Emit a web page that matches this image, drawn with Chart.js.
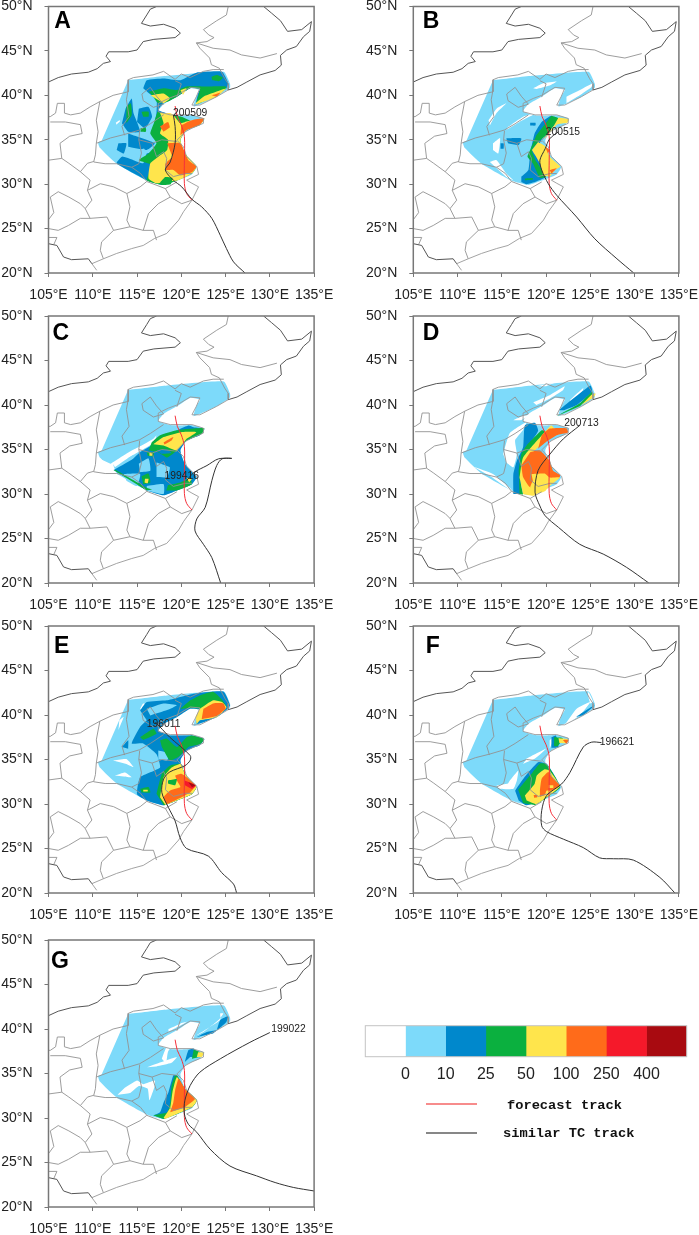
<!DOCTYPE html>
<html><head><meta charset="utf-8">
<style>html,body{margin:0;padding:0;background:#fff;width:699px;height:1235px;overflow:hidden}canvas{position:absolute;display:block}</style>
<script src="https://cdn.jsdelivr.net/npm/chart.js@4/dist/chart.umd.min.js"></script>
</head><body>
<script>
// ---------- colour bar ----------
const rainLevels = [0,10,25,50,100,250,400];
const rainColors = ['#ffffff','#7ddafa','#0088cc','#0bb03f','#ffe54c','#ff6b1a','#f5192a','#a80a10'];
// ---------- map outlines, [lon,lat,lon,lat,...] ----------
const borderNorth = [105,41.5,106.1,42,107.6,42.4,109.5,42.6,110.5,43,111.2,43.6,112,43.8,111.5,44.4,111.8,44.9,114,44.9,115,45.1,115.7,46.05,116.9,46.3,119.3,46.5,119.9,47,119.3,47.55,118,48,116.5,47.8,115.5,48.1,116.1,49.05,116.5,49.7,117.2,50];
const borderEast = [129.3,50,130.2,49.25,131.2,48.4,132,47.2,133.6,47.4,134.7,48.3,134.5,47.2,133.8,46.6,133,45.5,131.9,45.1,131.2,44.5,131.3,43.4,130.6,42.8,128.9,42.3,127.4,41.5,126.3,40.9,125.3,40.6];
const borderSouth = [105,23.3,105.95,23.1,106.7,21.8,107.6,21.5,109.5,21.6,109.9,21.05];
const coastline = [110.45,20.3,109.9,21.05,111.2,21.6,112.7,22.2,114.4,22.75,115.7,23.1,117,23.9,118.35,24.45,119.7,25.95,120.25,26.9,121.2,28.2,121.95,29.7,121.2,30.1,120.6,30.45,121.95,31.1,121.75,32,120.6,33.1,120.25,34.2,119.5,34.95,120.45,35.9,121.2,36.3,122.5,36.85,122.5,37.4,121.2,37.8,119.85,37.8,118.75,37.8,117.4,38.15,117.4,39.1,118.55,39.65,119.5,40,121,40.9,122.1,40.8,121.7,39.85,121.2,38.9,122.1,38.9,124,39.85,125.3,40.6];
const provNE1 = [125.3,50,125.1,49.05,124,48.4,122.5,47.4,123.1,46.8,123.7,46.5,122.9,46.05,121.7,45.9,122.1,45.3,123.2,44.2,123.4,43.45,124.3,43.05,124.9,41.9,125.3,41.3,125.3,40.6];
const provNE2 = [121.7,45.9,123.6,45.3,125.5,45.1,126.8,44.55,128.9,44.2,130.8,44.7];
const provNorth = [114,41.75,114.6,42,116.8,42.3,118,42.7,119.3,41.8,120,42.4,121,42,122.5,42.7,123.6,42.9,124.8,42.9];
const provLoess = [114,41.75,114,40.4,112.3,40,110.8,39.3,109.7,38.7,108.6,38,107.5,37.8,106.8,38,106.8,39.1,106,39.1,105.8,38,105.2,37.6,105,37.6];
const provShanxiE = [114,40.6,113.8,39.5,114.1,37.6,113.3,36.5,113.6,35.5];
const provShanxiW = [110.8,39.3,110.4,37.2,110.6,35.9,110.4,34.6,110.3,33.3,110.1,32.5,111.4,32.3,112.7,32.3,114.4,31.9,115.4,31.2,116.1,30.3];
const provShanxiS = [110.4,34.6,112,35.2,113.6,35.6,115.3,36.1,116.5,36.8,118,37.8];
const provHenanE = [115.3,36,115.2,35,116.7,34.6,117.8,35,119.5,34.8];
const provAnhuiW = [115.2,35,115.5,33.5,115.2,32.3,114.4,31.9];
const provAnhuiN = [116.7,34.6,117.2,33.1,118,33.65,118.35,32.9,118.2,31.6,119.1,30.85,120.45,31.2,121.2,31.2];
const provCapital = [115.55,40.15,116.5,40.9,117.2,39.9,118,39,116.85,38.65,115.7,39.4,115.55,40.15];
const provLiaoW = [119.5,39.8,120,41.3,119.3,41.65];
const provGansu = [105.2,37,106.9,37,108.6,36.7,108.8,35.7,107.4,35.4,106.3,34.6,106.5,32.9];
const provSichuanN = [105,32.7,106.5,32.9,107.3,32.35,108.6,31.4,109.4,32.35,110.1,32.55];
const provChongqing = [108.6,31.4,109.7,30.45,109.4,29.3,109.9,28.2,109.15,27.25,108.6,27.8,107.3,28.55,106.1,29.15,105.2,28.55];
const provYangtze = [109.4,29.3,110.85,30.05,112.35,29.7,113.85,28.95,115.35,29.7,116.1,30.3,118.2,29.5,119.5,30.25];
const provZhejiang = [118.2,29.5,118.75,28.55,120.05,27.8,121.2,28.2];
const provFujian = [118.75,28.55,117.4,27.8,116.3,26.7,115.7,24.8,116.85,24.8,117.2,23.7];
const provHunanE = [113.85,28.95,114.2,27.45,113.85,25.95,114.2,25.2,115.7,24.8];
const provHunanS = [109.15,27.25,109.7,26.15,111.6,26.3,112.35,24.8,114.2,25.2];
const provGuangxiN = [109.7,26.15,108.6,26.15,107.25,25.35,106.1,24.8,105,25];
const provGuangxiE = [112.35,24.8,111,23.5,110.85,22.55,111.2,21.6];
const provYunnan = [105,24,105.95,24,105.6,23.2];
const provGuizhou = [105.2,28.55,105.6,26.8,105,26];
// ---------- rain areas (same lon,lat pairs) ----------
const rainDomain = [114,41.7,118.4,42.2,124.8,42.65,125.5,41.3,125.5,40.85,124,39.85,121.4,38.75,121.7,39.9,122.1,40.6,121,40.8,119.5,39.85,118,39,117.4,38.2,118.7,37.75,119.9,37.7,121.2,37.75,122.6,37.35,122.1,36.65,120.6,36,119.9,34.9,120.4,33.4,121.7,31.95,121.2,31.1,119.5,30.4,118,29.9,116.1,30.4,112.7,32.3,110.8,34.1,110.6,34.7,111,34.9];
// A
const aBlueMain = [115.7,40.8,116.1,41.7,118,41.9,119.9,41.7,121.7,42.55,124.6,42.65,125.3,41.35,125.1,40.8,124,40,121.7,39.1,121.9,40.2,122.1,40.7,121,40.8,119.5,39.85,118,39.1,117.4,38.35,118.7,37.8,119.3,35.7,119.1,34.2,118.5,32.3,118.7,30.8,118,29.9,116.1,30.45,112.7,32.35,113.3,33.1,114.6,32.7,115.7,32.35,116.1,33.45,117.2,33.8,117.2,35.7,117,36.85,117.2,38,117.2,39.5,116.3,40.25];
const aBlueW1 = [113.7,38.5,114.4,39.65,114.6,38,115.35,35.9,114,35.9,113.3,36.85];
const aBlueW2 = [115.2,38.5,116.3,38.7,116.7,37.6,115.9,36.3,115,37];
const aBlueW3 = [112.9,34.6,113.8,34.6,113.5,33.45,112.7,33.85];
const aBlueW4 = [114,35.7,117,34.6,116.1,33.85,114,34.2];
const aLightS = [114.8,33.6,115.8,34,116,33.2,115,33];
const aGreenN = [116.3,40.4,118,40.8,119.5,40.6,120.6,41,122.5,41,123.5,41,125,41,125.1,40.8,123.6,39.85,121.7,39,122,40.2,122.1,40.7,121,40.8,119.5,39.85,118.5,39.3,117.4,39.1,116.7,40.05];
const aGreenBlob = [123.4,42.1,124,42.3,124.7,42,124.3,41.6,123.5,41.7];
const aGreenE = [117.3,38.15,116.9,36.85,116.5,35.7,117.2,34.6,116.3,33.45,115.2,32.7,116.7,32.15,116.1,30.45,118,29.9,119.5,30.4,121.2,31.2,121.7,32,120.4,33.45,119.9,35,120.6,36.1,122.1,36.65,122.6,37.35,121.2,37.1,120,37.6,118.7,37.8];
const aGreenW1 = [113.8,38.7,114.3,39.1,114.4,37.8,113.8,36.85];
const aGreenW2 = [115.5,38.15,116.3,38.15,116.3,37.6,115.7,37.6];
const aGreenW3 = [115.4,36.3,116,36.3,116,35.9,115.4,35.9];
const aYellowNE = [121.6,39.1,122.5,39.85,124.8,40.7,125.1,40.8,124,39.85,121.7,39];
const aYellowB1 = [116.5,40,118,40.2,118.7,39.65,118,39.1];
const aYellowB2 = [119.9,40.6,120.6,40.8,120.2,40.05];
const aYellowE = [117.6,38,118,36.85,117.6,35.7,118.5,35,118.4,33.85,117.4,33.1,116.5,32.35,116.3,30.65,117.2,30.1,118,30.25,119.5,30.4,121.2,31.2,121.7,32,120.4,33.45,119.9,35,120.6,36.1,122.1,36.65,122.6,37.35,120.6,37.05,119.9,36.85,119.1,37.8,118.7,38];
const aGreenS = [117.6,30.2,118.2,30.8,119,30.7,118.8,30,117.9,29.9];
const aOrangeNE = [123.4,40,124.4,40.3,124,39.85];
const aOrange1 = [117.6,36.5,118.5,37,118.7,36.4,118,35.9];
const aOrange2 = [120,36.65,121.2,37.2,122.6,37.4,122.1,36.7,120.6,36.1,119.9,35.5];
const aOrange3 = [118.4,34.6,119.9,34.6,120.8,32.7,121.7,32,121.2,31.35,119.9,31,119.1,31.6,118.2,31.6,118.2,32.3,119,33.1];
const aWhite = [112.6,36.9,113,37.2,113.1,37.1,112.7,36.7];
// B
const bWhite1 = [118.55,40.8,119.7,41.35,121.2,41.55,120.4,41.1,118.9,40.7];
const bWhite2 = [122.3,39.85,124.2,40.8,125.3,41.35,125.1,40.9,123.8,40,122.3,39.1];
const bWhite3 = [113.5,37.2,114.4,38.5,115.5,39.1,114.4,38,113.65,36.6];
const bWhite4 = [115.7,36.45,117.4,37.6,118.9,38,117,37,115.5,36.1];
const bWhite5 = [113.65,32.5,114.4,32.7,115.5,31.2,116.3,30.45,115.5,30.8];
const bWhite6 = [114,34.6,114.8,35.2,114.6,33.45,114,33.85];
const bBlueMain = [117.2,30.85,118,31.6,118.2,33.45,118.7,35.7,119.5,37,120.6,37.7,121.2,37,120,35.7,119.3,34.6,120,30.85,118.9,30.3,117.8,30,117.2,30.25];
const bBlue1 = [115.5,35.15,117.2,35.15,116.9,34.4,115.7,34.6];
const bBlue2 = [118.2,36.9,118.8,36.9,118.8,36.6,118.2,36.6];
const bBlue3 = [114.85,34.6,115.2,34.6,115.2,34,114.85,34];
const bGreen = [120.6,37.7,121.4,37.4,120,35.5,119.1,34.75,118.4,33.85,118.8,32.7,120,30.85,119.3,30.7,118.5,32.35,117.9,33.1,118.2,33.85,118.9,35.5];
const bGreenS = [117.6,30.65,118.5,30.7,118.5,30.5,117.6,30.45];
const bYellow1 = [121.4,37.5,122.6,37.3,122.4,36.9,121.2,36.7,120.2,35.5,119.7,35,120.9,36.6];
const bYellow2 = [119.1,34.75,120,34.2,120.4,33.1,121.6,32,121,31.6,120.4,30.85,119.7,31,119.3,32.35,118.4,33.85];
const bOrange1 = [119.9,34.2,120.4,33.85,120.2,33.45];
const bOrange2 = [120.4,31.6,121.2,31.8,120.6,31.2];
// C
const cWhite = [112.3,33.4,114.6,34.9,116.85,36.2,117.2,36.6,116.9,35.8,115.2,34.9,112.5,33];
const cWhiteEdge = [110.9,33.9,112.4,32.3,112.7,32.3,112.35,33.3,114.6,34.4,116.85,35.7,116.5,35.8,114.4,34.9,112,33.4];
const cBlue = [112.35,32.7,114.4,33.85,115.35,34.7,116.85,35.6,119.1,36.95,120.8,37.7,121.4,37.5,122.6,37.3,122.1,36.6,120.6,36,119.9,34.9,120.4,33.4,121.7,31.9,121.2,31.1,119.5,30.4,118,29.85,116.1,30.4];
const cLight1 = [115.2,33.4,116.3,34,116.5,32.6,115.35,32.45];
const cLight2 = [116.1,30.9,118,31.1,118,30,116.1,30.4];
const cLight3 = [117.2,33.55,118.7,33,118.4,31.9,117.2,31.9];
const cLight4 = [113.5,32.25,115.35,32.25,115,30.9,113.8,31.5];
const cGreenEdge = [112.35,32.7,112.6,32.7,116.1,30.7,116.7,30.5,116.1,30.4];
const cGreenSE = [118.5,31,119.9,31.3,121,31.7,121.2,31.1,119.5,30.4,118.3,30.4];
const cGreenBlob = [115.5,32,116.3,32.3,116.5,31.3,115.7,31.1];
const cGreenN = [116.65,35.8,117.6,36.6,119.5,37.15,120.6,37.3,122.6,37.4,122.3,36.75,120.6,36,119.5,34.9,118.4,34.1,117.4,34.7,116.3,34.9];
const cGreenW = [116.1,34.7,116.9,34.7,116.85,34.2,116.2,34.3];
const cBlueIn = [117.2,34.9,118.4,35,118.9,34.6,117.8,34.5];
const cYellowN = [116.85,35.6,118,36.4,120,36.95,121.7,36.95,120.6,36.2,119.5,34.9,118,35.45];
const cYellowB = [115.9,31.7,116.3,31.7,116.2,31.2,115.85,31.3];
const cYellowW = [116.4,34.6,116.7,34.6,116.7,34.3,116.4,34.3];
const cYellowSE = [120.6,31.8,121.2,31.7,120.9,31.3];
const cOrange = [118,35.8,119.1,36.4,118.9,36,118.1,35.55];
// D
const dWhite1 = [118.9,42.1,120.9,42.5,120,42.1];
const dWhite2 = [118.55,40.3,120.4,41.1,122.1,42.1,121.9,41.65,120.4,40.7,118.9,40];
const dWhite3 = [122.7,40.55,124.2,41.9,124,41.3,122.9,40.2];
const dWhite4 = [116.3,38.3,117.4,38.8,118,38.8,117.2,38.3];
const dWhite5 = [115.15,34.5,115.9,36.85,117.8,38.1,117.4,37.2,116.5,36.05,116.7,34.5,116.3,33,115.5,33.55];
const dWhite6 = [111.8,33.05,114,32.25,115.9,30.7,116.3,30.2,113.85,31.9];
const dBlueNE = [121.4,39.4,125,42.2,125.2,41.5,123.45,40,122,39.4];
const dGreenNE = [121.1,38.7,123.8,40.2,125.2,41.5,125.2,41,123.85,39.9];
const dYellowNE = [124,40,125.2,41.2,125.6,41.3,125.4,40.85];
const dBlue = [116.3,30,116.3,32.25,116.7,33.75,117.4,35.25,117.6,37.7,118.75,38,119.1,37.1,118.4,36,117.8,34.9,117.2,31.2,117.2,30];
const dGreen = [116.9,32.6,117.2,34.5,117.8,35.45,119.5,37.15,120,37,118.9,35.45,118,34.5,117,31.85,117.4,29.95,117,30];
const dYellow = [117,31.85,117.4,34.1,119.7,36.8,120.6,37.7,121.2,36.95,120,36.2,119.1,35.25,118,34.1,117.8,31.85,119,30,118.5,29.8,117.4,30];
const dOrange1 = [119.5,36.6,120.4,37.35,122.3,37.4,122.5,36.9,121.2,36.6,120,35.85,119.1,35.1];
const dOrange2 = [118.2,34.7,119.3,34.9,120.4,33.75,120.8,32.6,121.6,32.1,121.4,31.7,120.2,31.5,120.2,30.95,118.2,30.75,117.4,31.9,117.2,33.2];
const dYellowS = [118.35,32.25,119.85,32.3,120.4,31.85,121.55,31.85,120.4,30.9,119.85,30.3,118.75,30,118.2,30.75,118.5,31.5];
// E
const eBlue = [115.35,40.5,116.1,41.45,118.35,41.65,121.4,42.4,124.75,42.65,125.5,41.1,125.1,40.6,124,39.75,121.75,39,121.9,40.15,122.1,40.6,121,40.7,119.5,39.75,118,39,117.4,38.25,118.7,37.7,121.2,37.7,122.6,37.3,122.1,36.6,120.6,36,119.9,34.9,120.4,33.4,121.7,31.9,121.2,31.1,119.5,30.4,118,29.85,116.1,30.4,115,31.1,115.35,33,117.6,34.1,117.2,35.6,115.7,36.8,114.4,36.8,115.35,38.65,116.1,39.4];
const eLight1 = [116.1,40.7,118,41.3,119.5,41.1,118.4,40.55,116.5,39.95];
const eLight2 = [117.4,36,118.6,35.7,118.4,34.9,117.4,35];
const eBlueW = [113.3,36.4,114,37.15,114,36.2];
const eGreenN = [121,41.65,122.1,42.2,123.6,42.6,124.6,41.7,125.1,40.85,123.6,39.8,122.1,40.7,121,40.8,119.9,40.7];
const eYellowN = [122.1,40.7,123.6,41.65,124.6,41.45,125.1,40.85,124,39.75,122.1,39.4,121.75,39,121.6,39.8];
const eOrangeN = [122.5,40.7,123.6,41.3,124.75,41.3,125,40.7,124,39.9,122.3,39.55];
const eGreenM = [117.6,37.15,118.35,37.35,119.5,36.4,120.6,37.5,121.2,37.7,122.6,37.3,122.1,36.7,120.8,36.4,119.7,35.3,118.7,34.9,117.8,36.4];
const eGreenW = [115.35,37.5,116.85,38.45,117.2,37.9,115.7,37.2];
const eGreenS = [117.2,31.15,117.8,33.4,118.7,34.3,119.9,34.5,120.4,33.4,121.7,31.9,121.2,31.1,119.5,30.4,118,29.85];
const eYellowS = [117.6,30.75,118,33,118.9,34.1,119.9,34.5,120.4,33.4,121.7,31.9,121.2,31.1,119.5,30.4,118.2,29.9];
const eOrangeS = [119.3,33.2,120,33.4,120.6,33,121.6,32.1,121,31.3,118.35,30,118,30.75,118.7,31.5,119.9,31.9,119.5,32.65];
const eGreenIn = [118.5,32.65,119.5,32.8,119.3,32.1,118.5,32.3];
const eRed = [120.4,32.65,121.7,32.1,121.2,31.7,120.4,32.1];
const eDarkRed = [120.8,32.45,121.6,32.1,121.2,31.9];
const eGreenBlob = [115.35,31.7,116.3,31.9,116.5,31.3,115.5,31.3];
const eYellowBlob = [115.7,31.6,116.2,31.6,116.2,31.4,115.7,31.4];
const eWhite1 = [112.3,34.9,113.8,35.05,114.6,34.15,113.8,34.5];
const eWhite2 = [112.5,33.2,113.65,33.55,114.4,33,113.5,33.1];
const eWhite3 = [115.35,40.7,115.7,41.3,116.3,41.1,115.7,40.35];
const eWhite4 = [113,39.4,113.5,39.8,112.9,38.3];
// F
const fWhite1 = [124.8,42.6,125.3,41.5,125,41.3,124.7,42.3];
const fWhite2 = [121.9,38.6,123.45,40.7,125,41.45,123.85,40,122.7,39.2];
const fWhite3 = [117.8,35.1,120,36.2,118.75,35.1,117.4,34.5];
const fWhite4 = [115.9,32.65,116.85,33.75,116.7,32.65,116.3,31.7,114.8,31.7,114.4,32.05,115.7,32.3];
const fWhite5 = [120.4,37.15,121,37.7,120.4,36.2];
const fBlueNE = [123.45,39.85,125,40.85,125.5,41.1,124.2,40,123.45,39.8];
const fBlueTip = [120.6,37.5,121.1,37.7,121.4,36.4,120.6,36.3];
const fGreenTip = [120.9,37.5,121.9,37.4,121.3,36.5,120.9,36.5];
const fYellowTip = [121.4,37.4,122.5,37.3,122.3,36.85,121.5,36.85];
const fOrangeTip = [121.9,37.2,122.55,37.2,122.3,36.75];
const fBlue = [116.5,31.5,117.4,32.8,118,33.55,119.1,34.7,120.1,34.5,121.6,31.9,120.1,30.8,117.8,29.85,116.9,30.4];
const fGreen = [116.85,31.6,118,33,118.35,33.4,119.3,34.55,120.1,34.45,121.6,31.9,120.4,30.95,118.75,29.9,117.4,30.1];
const fYellow = [117.6,30.95,118.7,32.25,118.95,33.2,119.85,33.9,120.4,33.75,121.55,32,120.4,31,118.9,30,117.8,30.4];
const fOrange = [119.3,31.55,119.5,32.85,120.25,33.6,120.8,32.85,121.55,32.1,120.6,31.5,120.05,31.5,119.85,31,119.3,30.8];
const fOrangeDot = [118.6,31,119,31,119,30.75,118.65,30.7];
const fYellowIn = [120.3,32.1,120.8,32.1,120.8,31.8,120.3,31.8];
// G
const gWhite1 = [117.8,36.65,118.35,38,119.3,38.5,118.5,37.45,118.3,36.1];
const gWhite2 = [116.1,35.7,119.5,36.85,118.9,36.2,117.2,35.8];
const gWhite3 = [118.55,40,119.9,40.6,120.6,40.8,119.5,40.2,118.55,39.7];
const gWhite4 = [121.75,39.3,124.4,41,124.4,41.75,124.75,41.75,124.2,41,122.5,39.65];
const gWhite5 = [113.5,33.3,115,34.2,115.7,33.8,117,34.2,117,33.6,116.4,32,116.2,33.3,115.2,33.6,114.2,32.8,112.8,32.6];
const gBlueNE = [124,39.85,124.4,41,125.3,41.45,125.1,40.8,124.2,40];
const gBlueNE2 = [121.75,39.1,122.9,39.65,124,39.85,123.6,39.5];
const gBlueTip = [120.4,36.3,120.8,37.6,121.4,37.8,122.1,36.85,121,36.85];
const gGreenTip = [121.4,37.7,122.1,37.4,121.9,36.85,121.2,36.65];
const gYellowTip = [121.9,37.4,122.6,37.35,122.3,36.85,121.75,36.85];
const gBlue = [116.85,30.3,117.6,30.65,118,31.75,118.55,32.9,119.1,34.8,119.5,34.8,120.4,33.3,121.75,32,121.2,31.2,119.5,30.45,118,29.9];
const gGreen = [116.8,30.3,118.4,30.65,118.75,31.75,118.9,33.65,119.3,34.8,119.5,34.8,120.4,33.3,121.75,32,121.2,31.2,119.5,30.45,118,29.9];
const gYellow = [118,30,118.75,31.2,119,32.9,119.5,34.6,120.4,33.3,121.75,32,121.2,31.2,119.5,30.45,118.2,29.9];
const gOrange = [118.75,30.65,119.1,31.75,119.3,33.1,119.7,34.4,120.4,33.3,121.55,32.15,120.4,31.2];
// ---------- tracks ----------
const forecastTrack = [119.3,38.8,119.55,37.6,120,36.65,120.35,35.35,120.35,32.7,120.35,30.05,120.6,28.95,121.2,28.2];
const trackA = [127.2,20,125.9,21.25,125.1,22.75,124.4,24.25,123.45,26.15,122.3,27.45,121.2,28.3,120.05,29.7,119.1,30.45,118.2,31.6,118.75,32.5,119.3,34.6,119.3,36.5,119.1,37.8];
const trackB = [129.9,20,128,21.6,125.5,23.85,123.45,26.3,121.2,28.75,120.25,30.05,119.5,31.6,119.3,32.7,119.9,34,120.4,35.1,121.4,35.9];
const trackC = [124.45,20,123.45,22.85,122.5,24.35,121.55,25.85,121.75,27.2,122.7,28.5,123.45,31.5,124,33.2,124.6,33.95,125.7,34,124.2,33.95,122.9,33.2,121.4,32.4,120.6,31.5];
const trackD = [131.6,20,129.1,21.75,126.45,23.25,123.8,24.35,121.4,26.25,119.9,27.55,119.3,28.65,118.75,30.2,119.1,32.65,120.45,34.5,121.95,36.2,123.8,37.7];
const trackE = [126.25,20,125.9,21,124.55,22.3,123.05,24.15,120.6,25,119.85,26.25,119.3,28.1,118.55,29.6,117.8,31.3,118,32.8,118.7,33.6,120.4,34.3,121,34.9,121,35.45,118.7,37.5,117.6,38.65,117,39.2];
const trackF = [134.55,20,132.85,21.75,129.85,23.7,127.6,23.85,126.05,23.95,124.2,25.1,121.95,26.05,120.05,26.9,119.5,27.55,119.5,29.25,120.05,30.95,121.75,32.25,122.7,33.55,124.2,36.4,125.15,36.95,126.25,36.9];
const trackG = [135,21.8,132.65,22.2,130.6,22.75,128.5,23.5,125.5,24.6,123.25,26.5,121.75,28.4,120.8,29.3,120.35,30.45,120.4,31.95,121,33.65,122.1,35.15,124.4,36.65,127.75,38.5,130,39.6];
// ---------- panels ----------
const panelNames = ['A','B','C','D','E','F','G'];
const cycloneIds = ['200509','200515','199416','200713','196011','196621','199022'];
const lonTicks = [105,110,115,120,125,130,135];
const latTicks = [20,25,30,35,40,45,50];
const legendNames = ['forecast track','similar TC track'];

const W=0,L=1,B=2,G=3,Y=4,O=5,R=6,D=7; // colour indexes
const layers = {
 A:[[L,rainDomain],[W,aWhite],[B,aBlueW1],[B,aBlueW2],[B,aBlueW3],[B,aBlueW4],[B,aBlueMain],[L,aLightS],[G,aGreenW1],[G,aGreenW2],[G,aGreenW3],[G,aGreenN],[G,aGreenBlob],[G,aGreenE],[Y,aYellowNE],[Y,aYellowB1],[Y,aYellowB2],[Y,aYellowE],[G,aGreenS],[O,aOrangeNE],[O,aOrange1],[O,aOrange2],[O,aOrange3]],
 B:[[L,rainDomain],[W,bWhite1],[W,bWhite2],[W,bWhite3],[W,bWhite4],[W,bWhite5],[W,bWhite6],[B,bBlue1],[B,bBlue2],[B,bBlue3],[B,bBlueMain],[G,bGreen],[G,bGreenS],[Y,bYellow1],[Y,bYellow2],[O,bOrange1],[O,bOrange2]],
 C:[[L,rainDomain],[W,cWhiteEdge],[W,cWhite],[B,cBlue],[L,cLight1],[L,cLight2],[L,cLight3],[L,cLight4],[G,cGreenEdge],[G,cGreenSE],[G,cGreenBlob],[G,cGreenN],[G,cGreenW],[B,cBlueIn],[Y,cYellowN],[Y,cYellowB],[Y,cYellowW],[Y,cYellowSE],[O,cOrange]],
 D:[[L,rainDomain],[W,dWhite1],[W,dWhite2],[W,dWhite3],[W,dWhite4],[W,dWhite5],[W,dWhite6],[B,dBlueNE],[G,dGreenNE],[Y,dYellowNE],[B,dBlue],[G,dGreen],[Y,dYellow],[O,dOrange1],[O,dOrange2],[Y,dYellowS]],
 E:[[L,rainDomain],[W,eWhite1],[W,eWhite2],[W,eWhite3],[W,eWhite4],[B,eBlueW],[B,eBlue],[L,eLight1],[L,eLight2],[G,eGreenN],[Y,eYellowN],[O,eOrangeN],[G,eGreenM],[G,eGreenW],[G,eGreenS],[Y,eYellowS],[O,eOrangeS],[G,eGreenIn],[R,eRed],[D,eDarkRed],[G,eGreenBlob],[Y,eYellowBlob]],
 F:[[L,rainDomain],[W,fWhite1],[W,fWhite2],[W,fWhite3],[W,fWhite4],[W,fWhite5],[B,fBlueNE],[B,fBlueTip],[G,fGreenTip],[Y,fYellowTip],[O,fOrangeTip],[B,fBlue],[G,fGreen],[Y,fYellow],[O,fOrange],[O,fOrangeDot],[Y,fYellowIn]],
 G:[[L,rainDomain],[W,gWhite1],[W,gWhite2],[W,gWhite3],[W,gWhite4],[W,gWhite5],[B,gBlueNE],[B,gBlueNE2],[B,gBlueTip],[G,gGreenTip],[Y,gYellowTip],[B,gBlue],[G,gGreen],[Y,gYellow],[O,gOrange]]
};
const tracks = {A:trackA,B:trackB,C:trackC,D:trackD,E:trackE,F:trackF,G:trackG};
const provinces = [provNE1,provNE2,provNorth,provLoess,provShanxiE,provShanxiW,provShanxiS,provHenanE,provAnhuiW,provAnhuiN,provCapital,provLiaoW,provGansu,provSichuanN,provChongqing,provYangtze,provZhejiang,provFujian,provHunanE,provHunanS,provGuangxiN,provGuangxiE,provYunnan,provGuizhou];
const borders = [borderNorth,borderEast,borderSouth];

// ---------- layout (not data) ----------
const frames = {
 A:{cl:0,ct:0,pl:48.5,pt:6.5,name:[106.6,48.3],id:[121,38]},
 B:{cl:365,ct:0,pl:48.3,pt:6.5,name:[107,48.3],id:[121.9,35.9]},
 C:{cl:0,ct:310,pl:48.5,pt:6,name:[106.4,48],id:[120.05,32]},
 D:{cl:365,ct:310,pl:48.3,pt:6,name:[107,48],id:[124,38]},
 E:{cl:0,ct:620,pl:48.5,pt:6,name:[106.5,47.7],id:[118,38.95]},
 F:{cl:365,ct:620,pl:48.3,pt:6,name:[107.2,47.7],id:[128,36.9]},
 G:{cl:0,ct:934,pl:48.5,pt:6,name:[106.3,47.6],id:[132.1,40]}
};
const SANS='"Liberation Sans",Arial,sans-serif';
const PLOT_W=265.6, PLOT_H=266.2, AXIS_B=32, CW=334;

function pts(a){const o=[];for(let i=0;i<a.length;i+=2)o.push({x:a[i],y:a[i+1]});return o;}
function polyDs(a,c){return {data:pts(a),showLine:true,fill:'shape',backgroundColor:c,borderColor:c,borderWidth:0,pointRadius:0,tension:0.15,spanGaps:true};}
function lineDs(a,c,w,t){return {data:pts(a),showLine:true,fill:false,borderColor:c,borderWidth:w,pointRadius:0,tension:t||0,spanGaps:true};}
function addCanvas(l,t,w,h){const c=document.createElement('canvas');c.width=w;c.height=h;c.style.left=l+'px';c.style.top=t+'px';c.style.width=w+'px';c.style.height=h+'px';document.body.appendChild(c);return c;}
function zeroPad(s){s.paddingLeft=0;s.paddingRight=0;s.paddingTop=0;s.paddingBottom=0;}

panelNames.forEach((n,idx)=>{
  const f=frames[n];
  const list=[];
  layers[n].forEach(([c,a])=>list.push(polyDs(a,rainColors[c])));
  provinces.forEach(a=>list.push(lineDs(a,'#929292',0.9)));
  list.push(lineDs(coastline,'#989898',0.9));
  borders.forEach(a=>list.push(lineDs(a,'#555555',1)));
  list.push(lineDs(forecastTrack,'#f5303a',1,0.3));
  list.push(lineDs(tracks[n],'#333333',1,0.3));
  list.forEach((d,i)=>{d.order=list.length-i;});
  const c=addCanvas(f.cl,f.ct,CW,Math.ceil(f.pt+PLOT_H+AXIS_B));
  new Chart(c,{type:'scatter',data:{datasets:list},
    options:{responsive:false,animation:false,events:[],
      layout:{padding:{top:f.pt,right:CW-f.pl-PLOT_W,bottom:0,left:0}},
      plugins:{legend:{display:false},tooltip:{enabled:false},title:{display:false}},
      scales:{
        x:{type:'linear',min:105,max:135,
           afterBuildTicks(s){s.ticks=lonTicks.map(v=>({value:v}));},
           afterFit(s){s.height=AXIS_B;zeroPad(s);},
           ticks:{callback:v=>v+'°E',color:'#222',font:{family:SANS,size:14},padding:10,autoSkip:false,maxRotation:0,minRotation:0},
           grid:{drawOnChartArea:false,drawTicks:true,tickLength:4,color:'#777'},border:{display:false}},
        y:{type:'linear',min:20,max:50,
           afterBuildTicks(s){s.ticks=latTicks.map(v=>({value:v}));},
           afterFit(s){s.width=f.pl;zeroPad(s);},
           ticks:{callback:v=>v+'°N',color:'#222',font:{family:SANS,size:14},padding:12,autoSkip:false},
           grid:{drawOnChartArea:false,drawTicks:true,tickLength:4,color:'#777'},border:{display:false}}
      }},
    plugins:[{id:'panelMarks',afterDraw(ch){
      const g=ch.ctx,a=ch.chartArea,sx=ch.scales.x,sy=ch.scales.y;
      g.save();
      g.strokeStyle='#777';g.lineWidth=1.5;g.strokeRect(a.left,a.top,a.right-a.left,a.bottom-a.top);
      g.textAlign='center';g.textBaseline='middle';
      g.fillStyle='#222';g.font='10.3px '+SANS;
      g.fillText(cycloneIds[idx],sx.getPixelForValue(f.id[0]),sy.getPixelForValue(f.id[1]));
      g.fillStyle='#000';g.font='bold 23px '+SANS;
      g.fillText(n,sx.getPixelForValue(f.name[0]),sy.getPixelForValue(f.name[1]));
      g.restore();
    }}]
  });
});

// colour bar: one stacked horizontal bar
(function(){
  const c=addCanvas(360,1020,339,70);
  new Chart(c,{type:'bar',
    data:{labels:['rain'],datasets:rainColors.map((col,i)=>({data:[1],backgroundColor:col,borderWidth:0,stack:'s',order:i}))},
    options:{indexAxis:'y',responsive:false,animation:false,events:[],
      layout:{padding:{top:5.7,left:5.3,right:12.3,bottom:0}},
      plugins:{legend:{display:false},tooltip:{enabled:false}},
      datasets:{bar:{barPercentage:1,categoryPercentage:1}},
      scales:{
        x:{type:'linear',stacked:true,min:0,max:rainColors.length,
           afterBuildTicks(s){s.ticks=rainLevels.map((v,i)=>({value:i+1}));},
           afterFit(s){s.height=33.3;zeroPad(s);},
           ticks:{callback:v=>rainLevels[v-1],color:'#222',font:{family:SANS,size:16},padding:8,autoSkip:false,maxRotation:0},
           grid:{display:false,drawTicks:false},border:{display:false}},
        y:{stacked:true,display:false}
      }},
    plugins:[{id:'barFrame',afterDraw(ch){const g=ch.ctx,a=ch.chartArea;g.save();g.strokeStyle='#c4c4c4';g.lineWidth=1;g.strokeRect(a.left,a.top,a.right-a.left,a.bottom-a.top);g.restore();}}]
  });
})();

// track legend
(function(){
  const c=addCanvas(420,1092,240,56);
  new Chart(c,{type:'scatter',
    data:{datasets:[
      {data:[{x:6,y:12},{x:57,y:12}],showLine:true,borderColor:'#f01a1a',borderWidth:1.2,pointRadius:0},
      {data:[{x:6,y:41},{x:57,y:41}],showLine:true,borderColor:'#111',borderWidth:1.2,pointRadius:0}
    ]},
    options:{responsive:false,animation:false,events:[],layout:{padding:0},
      plugins:{legend:{display:false},tooltip:{enabled:false}},
      scales:{x:{type:'linear',display:false,min:0,max:240},y:{type:'linear',display:false,min:0,max:56,reverse:true}}},
    plugins:[{id:'legendText',afterDraw(ch){
      const g=ch.ctx,sx=ch.scales.x,sy=ch.scales.y;
      g.save();g.fillStyle='#111';g.font='bold 13.7px "Liberation Mono",monospace';g.textBaseline='middle';g.textAlign='left';
      g.fillText(legendNames[0],sx.getPixelForValue(87),sy.getPixelForValue(14));
      g.fillText(legendNames[1],sx.getPixelForValue(83),sy.getPixelForValue(42));
      g.restore();
    }}]
  });
})();
</script>
</body></html>
